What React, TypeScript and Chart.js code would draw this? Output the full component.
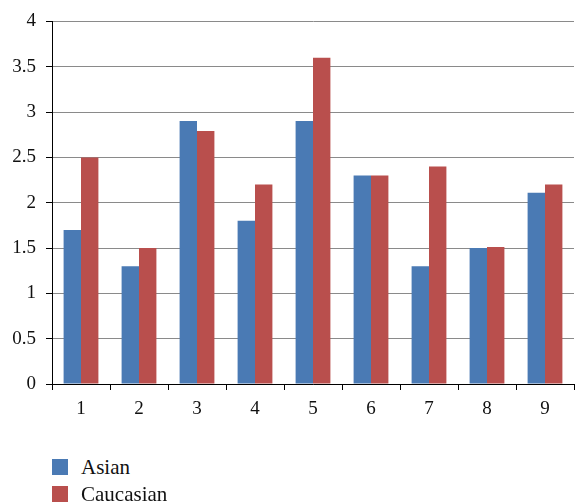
import React, { useEffect, useRef } from "react";
import { Chart, registerables } from "chart.js";

Chart.register(...registerables);

const categories = ["1", "2", "3", "4", "5", "6", "7", "8", "9"];
const asian = [1.7, 1.3, 2.9, 1.8, 2.9, 2.3, 1.3, 1.5, 2.11];
const caucasian = [2.5, 1.5, 2.79, 2.2, 3.6, 2.3, 2.4, 1.51, 2.2];
const seriesNames = ["Asian", "Caucasian"];
const seriesColors = ["#4a7ab4", "#b94f4d"];

const FONT = "Liberation Serif";

export default function App() {
  const ref = useRef<HTMLCanvasElement | null>(null);
  useEffect(() => {
    if (!ref.current) return;
    const chart = new Chart(ref.current, {
      type: "bar",
      data: {
        labels: categories,
        datasets: [
          { label: seriesNames[0], data: asian, backgroundColor: seriesColors[0], barPercentage: 1, categoryPercentage: 0.6 },
          { label: seriesNames[1], data: caucasian, backgroundColor: seriesColors[1], barPercentage: 1, categoryPercentage: 0.6 },
        ],
      },
      options: {
        responsive: false,
        animation: false,
        layout: { padding: { top: 20, right: 1, left: 0, bottom: 0 } },
        plugins: { legend: { display: false }, tooltip: { enabled: false } },
        scales: {
          x: {
            grid: { display: true, drawOnChartArea: false, offset: true, color: "#000", tickLength: 6, tickColor: "#000" },
            border: { color: "#000", width: 1 },
            ticks: { color: "#111", font: { family: FONT, size: 19 }, padding: 8 },
            afterFit: (s: any) => { s.height = 36; },
          },
          y: {
            min: 0,
            max: 4,
            ticks: { stepSize: 0.5, color: "#111", font: { family: FONT, size: 19 }, padding: 10, callback: (v: any) => String(v) },
            grid: { color: "#8a8a8a", tickLength: 6, tickColor: "#000" },
            border: { color: "#000", width: 1 },
            afterFit: (s: any) => { s.width = 52; },
          },
        },
      },
    });
    return () => chart.destroy();
  }, []);
  return (
    <div style={{ position: "fixed", left: 0, top: 0, width: 575, height: 503, background: "#fff", fontFamily: FONT }}>
      <canvas ref={ref} width={575} height={420} style={{ display: "block" }} />
      {seriesNames.map((name, i) => (
        <div key={name} style={{ position: "absolute", left: 52, top: 459 + i * 27, height: 16, display: "flex", alignItems: "center" }}>
          <div style={{ width: 16, height: 16, background: seriesColors[i] }} />
          <span style={{ marginLeft: 13, fontSize: 21, color: "#111", lineHeight: "16px" }}>{name}</span>
        </div>
      ))}
    </div>
  );
}
